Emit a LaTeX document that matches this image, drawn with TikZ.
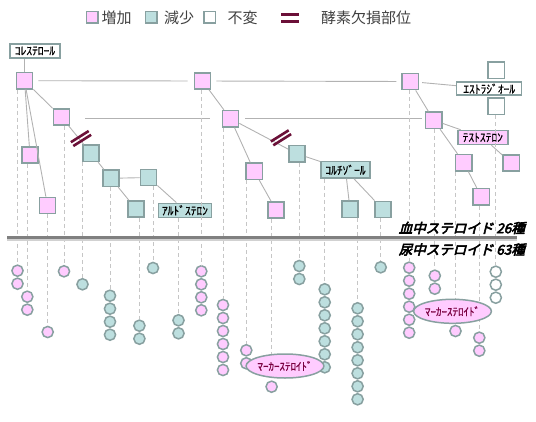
\documentclass[tikz,border=0pt]{standalone}
\usepackage{fontspec}
\setmainfont{Noto Sans CJK JP}
\newfontfamily\katafont[FakeBold=0.6]{Noto Sans CJK JP}
\newfontfamily\titlefont[FakeSlant=0.25,FakeBold=4]{Noto Sans CJK JP}
\usepackage{tikz}
\usetikzlibrary{shapes.geometric}
\definecolor{upfill}{HTML}{FFCCFF}
\definecolor{downfill}{HTML}{BDDFDF}
\definecolor{edgegray}{HTML}{88A0A0}
\definecolor{linkgray}{HTML}{B2B2B2}
\definecolor{dropgray}{HTML}{C6C6C6}
\definecolor{enzred}{HTML}{6B1038}
\definecolor{markred}{HTML}{7A0040}
\definecolor{legendgray}{HTML}{404040}
\newcommand{\DotStep}{13}

\begin{document}
\begin{tikzpicture}[
        x=1pt, y=-1pt,
        box/.style={rectangle, draw=edgegray, line width=1.5pt, minimum size=16.3pt, inner sep=0pt},
        up/.style={box, fill=upfill},
        down/.style={box, fill=downfill},
        same/.style={box, fill=white},
        lbl/.style={rectangle, draw=edgegray, line width=1.5pt, inner sep=0pt, minimum height=14pt, font=\katafont\fontsize{11.5}{12}\selectfont},
        dot/.style={circle, draw=edgegray, line width=1.5pt, minimum size=11.2pt, inner sep=0pt},
        updot/.style={dot, fill=upfill},
        downdot/.style={dot, fill=downfill},
        samedot/.style={dot, fill=white},
        marker/.style={ellipse, draw=edgegray, line width=1.5pt, fill=upfill, minimum width=60pt, minimum height=24pt, inner sep=0pt, text=markred, font=\katafont\fontsize{11}{12}\selectfont},
        link/.style={linkgray, line width=0.9pt},
        drop/.style={dropgray, dashed, dash pattern=on 4pt off 3pt, line width=0.8pt},
        enz/.style={enzred, line width=2.6pt},
        legend/.style={anchor=west, inner sep=0pt, text=legendgray, font=\fontsize{15}{15}\selectfont},
        title/.style={anchor=east, inner sep=0pt, font=\titlefont\fontsize{13.5}{14}\selectfont},
    ]
    \useasboundingbox (0,0) rectangle (536,421);

    % legend
    \node[up, minimum size=11.5pt] (LgUp) at (92.3,17.2) {};
    \node[legend] (LgUpT) at (101.5,17.5) {増加};
    \node[down, minimum size=11.5pt] (LgDown) at (151.2,17.2) {};
    \node[legend] (LgDownT) at (164,17.5) {減少};
    \node[same, minimum size=11.5pt] (LgSame) at (209.8,17.2) {};
    \node[legend] (LgSameT) at (227.5,17.5) {不変};
    \draw[enz] (281,14.6) -- (299,14.6);
    \draw[enz] (281,21.4) -- (299,21.4);
    \node[legend] (LgEnzT) at (321,17.5) {酵素欠損部位};

    % blood steroids
    \node[lbl, minimum width=50pt, fill=white] (CH) at (35,51) {ｺﾚｽﾃﾛｰﾙ};
    \node[up] (A) at (24.5,80.7) {};
    \node[up] (B) at (202.5,81) {};
    \node[up] (M) at (410.3,81.5) {};
    \node[up] (C) at (61.5,117) {};
    \node[up] (D) at (230.5,118.7) {};
    \node[up] (N) at (433.8,120.3) {};
    \node[up] (E) at (30,155) {};
    \node[up] (F) at (47.5,205.5) {};
    \node[down] (G) at (91,153.3) {};
    \node[down] (H) at (111,178.3) {};
    \node[down] (I) at (148.5,177.5) {};
    \node[down] (J) at (136,209) {};
    \node[lbl, minimum width=53pt, fill=downfill] (AL) at (185,210.3) {ｱﾙﾄﾞｽﾃﾛﾝ};
    \node[up] (K) at (254.3,171.3) {};
    \node[up] (L) at (276,210) {};
    \node[down] (R) at (297,153.8) {};
    \node[lbl, minimum width=49pt, minimum height=16.5pt, fill=downfill] (CO) at (345.5,169.8) {ｺﾙﾁｿﾞｰﾙ};
    \node[down] (S) at (350,209.2) {};
    \node[down] (T) at (383,209.5) {};
    \node[same] (W1) at (496.2,70.3) {};
    \node[lbl, minimum width=65pt, minimum height=13pt, fill=white] (ES) at (489.2,88.7) {ｴｽﾄﾗｼﾞｵｰﾙ};
    \node[same] (W2) at (496.2,106.3) {};
    \node[lbl, minimum width=50pt, fill=upfill] (TE) at (482.8,137.5) {ﾃｽﾄｽﾃﾛﾝ};
    \node[up] (O) at (511.2,163) {};
    \node[up] (P) at (463.8,162.7) {};
    \node[up] (Q) at (481.3,196.7) {};

    \draw[link] (CH.south -| A) -- (A);
    \draw[link, shorten <=5pt, shorten >=6pt] (A) -- (B);
    \draw[link, shorten <=5pt, shorten >=5pt] (B) -- (M);
    \draw[link, shorten <=3pt] (M) -- (ES);
    \draw[link, shorten <=15pt, shorten >=12pt] (D -| C.east) -- (D.west);
    \draw[link, shorten <=6pt, shorten >=3pt] (D.east) -- (D -| N.west);
    \foreach \a/\b in {A/C, A/E, A/F, C/G, G/H, H/I, H/J, I/AL, B/D, D/R, D/K, K/L,
                       R/CO, CO/S, CO/T, M/N, N/TE, TE/O, N/P, P/Q}
    \draw[link] (\a) -- (\b);

    \coordinate (X1) at (81,138.5);
    \coordinate (X2) at (281,137.8);
    \foreach \m in {X1,X2} {
        \draw[enz] ([shift={(-10.1,3.7)}]\m) -- ([shift={(7.7,-7.5)}]\m);
        \draw[enz] ([shift={(-7.7,7.5)}]\m) -- ([shift={(10.1,-3.7)}]\m);
    }

    % urine steroids
    \foreach \i/\x/\y/\n/\s in {1/17.5/270.7/2/updot, 2/27.3/296.7/2/updot, 3/47.7/332/1/updot,
            4/64/271.3/1/updot, 5/82.5/284.3/1/downdot, 6/110/295.7/4/downdot,
            7/139.4/325.7/2/downdot, 8/153/268/1/downdot, 9/178.5/320.3/2/downdot,
            10/201.3/271.3/4/updot, 11/223/305/6/updot, 12/246.3/350.3/2/updot,
            13/271.6/386.7/1/updot, 14/299.3/266/2/downdot, 15/324.7/289.3/7/downdot,
            16/357.6/308.3/8/downdot, 17/380.7/267.3/1/downdot, 18/409.2/267.7/6/updot,
            19/434.8/275.7/2/updot, 20/455.5/331/1/updot, 21/479.3/337.7/2/updot,
            22/495.8/271.7/3/samedot}
    \foreach \k in {1,...,\n}
    \node[\s] (u\i-\k) at (\x,{\y+\DotStep*(\k-1)}) {};

    \foreach \src/\i in {A/1, E/2, F/3, C/4, G/5, H/6, J/7, I/8, AL/9, B/10, D/11, K/12,
                         L/13, R/14, CO/15, S/16, T/17, M/18, N/19, P/20, Q/21, W2/22}
    \draw[drop] (\src.south -| u\i-1) -- (u\i-1.north);

    \node[marker] (MK1) at (285,366) {ﾏｰｶｰｽﾃﾛｲﾄﾞ};
    \node[marker] (MK2) at (452.5,311.3) {ﾏｰｶｰｽﾃﾛｲﾄﾞ};

    \draw[line width=2pt, black!18] (7,240.4) -- (517,240.4);
    \draw[line width=3pt, black!50] (7,237.8) -- (517,237.8);
    \node[title] (BL) at (525,228) {血中ステロイド 26種};
    \node[title] (UR) at (525,249.5) {尿中ステロイド 63種};
\end{tikzpicture}
\end{document}
